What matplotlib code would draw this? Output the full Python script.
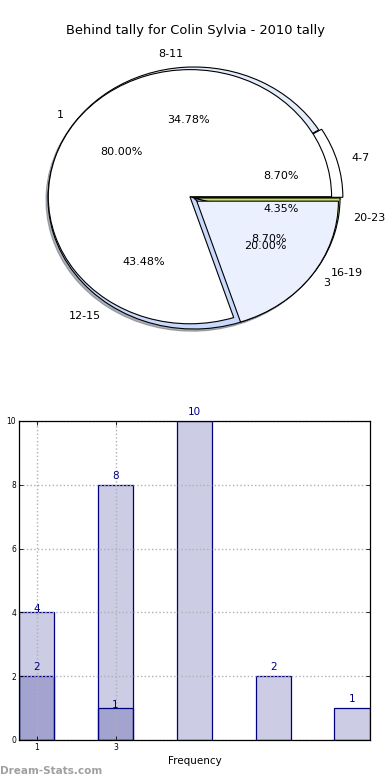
import matplotlib
matplotlib.use("Agg")
import matplotlib.pyplot as plt

# ---- data ----
title = "Behind tally for Colin Sylvia - 2010 tally"
range_labels = ["4-7", "8-11", "12-15", "16-19", "20-23"]
range_counts = [2, 8, 10, 2, 1]
qtr_labels = ["1", "3"]
qtr_counts = [4, 1]

bar_positions = [1, 3, 5, 7, 9]
bar_totals = [4, 8, 10, 2, 1]
sub_positions = [1, 3]
sub_values = [2, 1]
xtick_labels = ["1", "3"]
xlabel = "Frequency"
ylabel = "Distribution"
watermark = "Dream-Stats.com"

plt.rcParams['font.family'] = ['DejaVu Sans']
fig = plt.figure(figsize=(3.9, 7.8), dpi=100)

# ---- pie section ----
axp = fig.add_axes([0.0295, 0.5362, 0.936, 0.4199])
range_colors = ["white", "#e6edfa", "#c8d9fc", "#eef2fc", "#c5e35f"]
axp.pie(range_counts, labels=range_labels, colors=range_colors,
        autopct='%.2f%%', pctdistance=0.6, labeldistance=1.1,
        startangle=0, counterclock=True,
        shadow=dict(ox=-0.01, oy=-0.012, shade=0.55),
        explode=[0.02, 0, 0, 0, 0],
        wedgeprops=dict(edgecolor='black', linewidth=0.8),
        textprops=dict(fontsize=8))
axp.pie(qtr_counts, labels=qtr_labels, colors=["white", "#eaf0fd"],
        autopct='%.2f%%', pctdistance=0.6, labeldistance=1.1,
        startangle=0, counterclock=True, radius=0.97, center=(-0.028, 0.01),
        explode=[0, 0.058],
        wedgeprops=dict(edgecolor='black', linewidth=0.8),
        textprops=dict(fontsize=8))
axp.set_aspect('auto')
axp.set_xlim(-1.25, 1.25)
axp.set_ylim(-1.25, 1.25)
axp.set_axis_off()
fig.text(0.5, 0.961, title, ha='center', va='center', fontsize=9.4)

# ---- bar section ----
ax = fig.add_axes([0.0487, 0.0513, 0.9, 0.409])
navy = '#000080'
ax.bar(bar_positions, bar_totals, width=0.9, color=navy, alpha=0.2,
       edgecolor='none')
ax.bar(bar_positions, bar_totals, width=0.9, facecolor='none',
       edgecolor=navy, linewidth=0.9)
ax.bar(sub_positions, sub_values, width=0.9, color=navy, alpha=0.2,
       edgecolor='none')
ax.bar(sub_positions, sub_values, width=0.9, facecolor='none',
       edgecolor=navy, linewidth=0.9)

# value labels
low_offset = {(1, 4), (3, 1)}
for x, v in list(zip(bar_positions, bar_totals)) + list(zip(sub_positions, sub_values)):
    off = 3 if (x, v) in low_offset else 9
    ax.annotate(str(v), (x, v), xytext=(0, off), textcoords='offset pixels',
                ha='center', va='center', color=navy, fontsize=7.5,
                annotation_clip=False)

ax.set_xlim(0.55, 9.45)
ax.set_ylim(0, 10)
ax.set_xticks(sub_positions)
ax.set_xticklabels(xtick_labels)
ax.set_yticks([0, 2, 4, 6, 8, 10])
ax.tick_params(direction='in', top=True, right=True, labelsize=5.5,
               length=3, width=0.6, pad=2)
ax.grid(True, color='#b0b0b0', linestyle=':', linewidth=1)
ax.set_axisbelow('line')
ax.set_xlabel(xlabel, fontsize=7.5, labelpad=3)
ax.set_ylabel(ylabel, fontsize=7.5)
ax.yaxis.set_label_coords(-0.056, 0.5)
for s in ax.spines.values():
    s.set_linewidth(0.9)
    s.set_zorder(3)

fig.text(0.0, 0.012, watermark, ha='left', va='center', fontsize=7.5,
         fontweight='bold', color='#a0a0a0')

fig.savefig("out.png", dpi=100)
